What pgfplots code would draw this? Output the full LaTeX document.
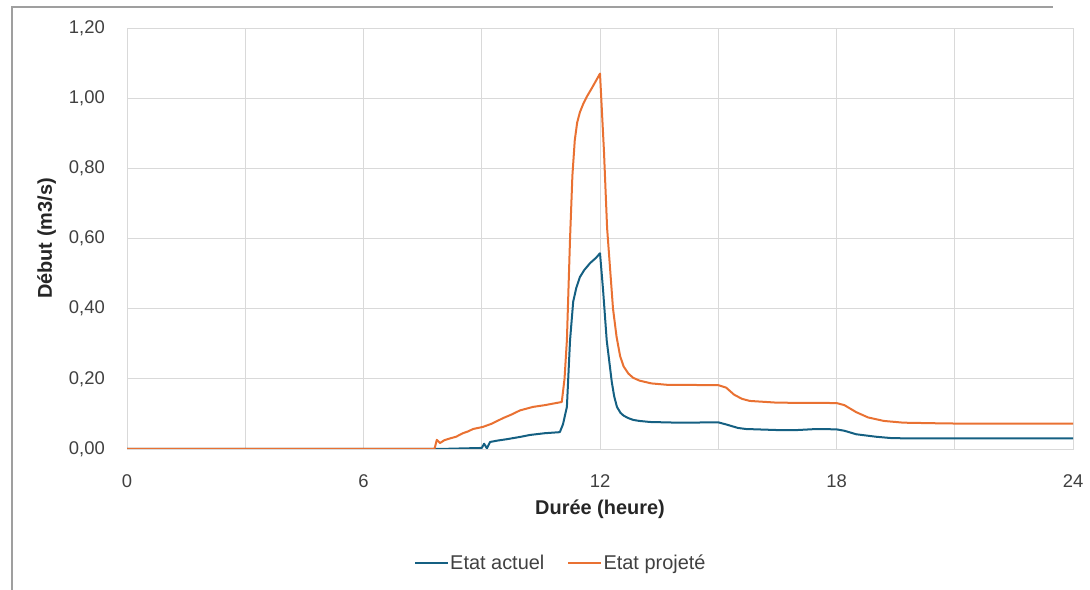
\documentclass[border=0pt]{standalone}
\usepackage{pgfplots}
\pgfplotsset{compat=1.18}
\usepackage{fontspec}
\setmainfont{Liberation Sans}
\definecolor{cblue}{HTML}{156082}
\definecolor{corange}{HTML}{E97132}
\definecolor{gridc}{HTML}{D9D9D9}
\definecolor{txt}{HTML}{404040}
\begin{document}
\begin{tikzpicture}
\useasboundingbox (0bp,0bp) rectangle (1090bp,590bp);
\draw[color=gray!75, line width=1.5bp] (12bp,0bp) -- (12bp,583bp) -- (1053bp,583bp);
\begin{axis}[
  at={(127bp,141bp)}, anchor=south west,
  scale only axis, width=946bp, height=421bp,
  xmin=0, xmax=24, ymin=0, ymax=1.2,
  xtick={0,6,12,18,24}, minor xtick={3,9,15,21},
  ytick={0,0.2,0.4,0.6,0.8,1.0,1.2},
  grid=both,
  major grid style={draw=gridc, line width=0.9bp},
  minor grid style={draw=gridc, line width=0.9bp},
  axis line style={draw=gridc, line width=0.9bp},
  tick style={draw=none},
  ticklabel style={text=txt, font=\fontsize{18.5}{21}\selectfont, inner sep=0pt},
  /pgf/number format/assume math mode=true,
  yticklabel style={/pgf/number format/fixed, /pgf/number format/fixed zerofill,
    /pgf/number format/precision=2, /pgf/number format/use comma, anchor=east, xshift=-22bp},
  xticklabel style={/pgf/number format/fixed, /pgf/number format/precision=0, anchor=north, yshift=-25bp},
  xlabel={\textbf{Durée (heure)}},
  ylabel={\textbf{Début (m3/s)}},
  label style={font=\fontsize{20}{23}\selectfont, text=black!85},
  xlabel style={at={(axis description cs:0.5,-0.143)}, anchor=center},
  ylabel style={at={(axis description cs:-0.085,0.5)}, anchor=center},
  legend columns=2,
  legend style={at={(0.458,-0.271)}, anchor=center, draw=none, fill=none,
    font=\fontsize{20}{23}\selectfont, text=txt, inner sep=0pt,
    /tikz/every odd column/.append style={column sep=0bp},
    /tikz/every even column/.append style={column sep=22bp},
    nodes={inner sep=1bp}},
  legend image code/.code={\draw[#1, line width=2.2bp] (0bp,0bp) -- (33bp,0bp);},
]
\addplot[color=cblue, line width=2bp, line join=round] coordinates {
(0,0) (7.9,0) (9.0,0.003) (9.06,0.015) (9.13,0.002) (9.21,0.020) (9.40,0.024)
(9.64,0.028) (10.0,0.035) (10.22,0.040) (10.6,0.045) (10.98,0.048) (11.06,0.070)
(11.16,0.12) (11.24,0.31) (11.32,0.42) (11.40,0.46) (11.49,0.49) (11.6,0.51)
(11.75,0.53) (11.9,0.545) (12.0,0.558)
(12.08,0.45) (12.17,0.31) (12.30,0.19) (12.36,0.15) (12.43,0.12) (12.52,0.103)
(12.6,0.095) (12.72,0.088) (12.84,0.083) (13.0,0.080)
(13.27,0.077) (14.0,0.075) (15.0,0.076) (15.2,0.070) (15.5,0.060) (15.7,0.057)
(16.5,0.054) (17.0,0.054) (17.5,0.057) (18.0,0.056) (18.2,0.052) (18.5,0.042)
(19.0,0.035) (19.4,0.031) (20,0.030) (24,0.030)
};
\addlegendentry{Etat actuel}
\addplot[color=corange, line width=2bp, line join=round] coordinates {
(0,0) (7.80,0) (7.86,0.026) (7.94,0.017) (8.05,0.025) (8.19,0.030) (8.35,0.035)
(8.52,0.045) (8.65,0.050) (8.78,0.057) (9.03,0.063) (9.25,0.072) (9.54,0.088)
(9.75,0.098) (9.97,0.110) (10.30,0.120) (10.6,0.125) (11.03,0.134) (11.10,0.20)
(11.16,0.31) (11.24,0.60) (11.30,0.78) (11.36,0.88) (11.42,0.93) (11.49,0.96)
(11.58,0.985) (11.67,1.005) (11.8,1.03) (11.9,1.05) (12.0,1.07)
(12.10,0.85) (12.18,0.63) (12.33,0.40) (12.42,0.32) (12.51,0.265) (12.6,0.235)
(12.72,0.215) (12.84,0.203) (13.0,0.195) (13.3,0.187)
(13.70,0.183) (15.0,0.182) (15.2,0.175) (15.4,0.155)
(15.6,0.143) (15.8,0.137) (16.5,0.132) (18.0,0.131) (18.2,0.125) (18.5,0.105)
(18.8,0.090) (19.2,0.080) (19.7,0.075) (20.7,0.073) (21.5,0.072) (24,0.072)
};
\addlegendentry{Etat projeté}
\end{axis}
\end{tikzpicture}
\end{document}
